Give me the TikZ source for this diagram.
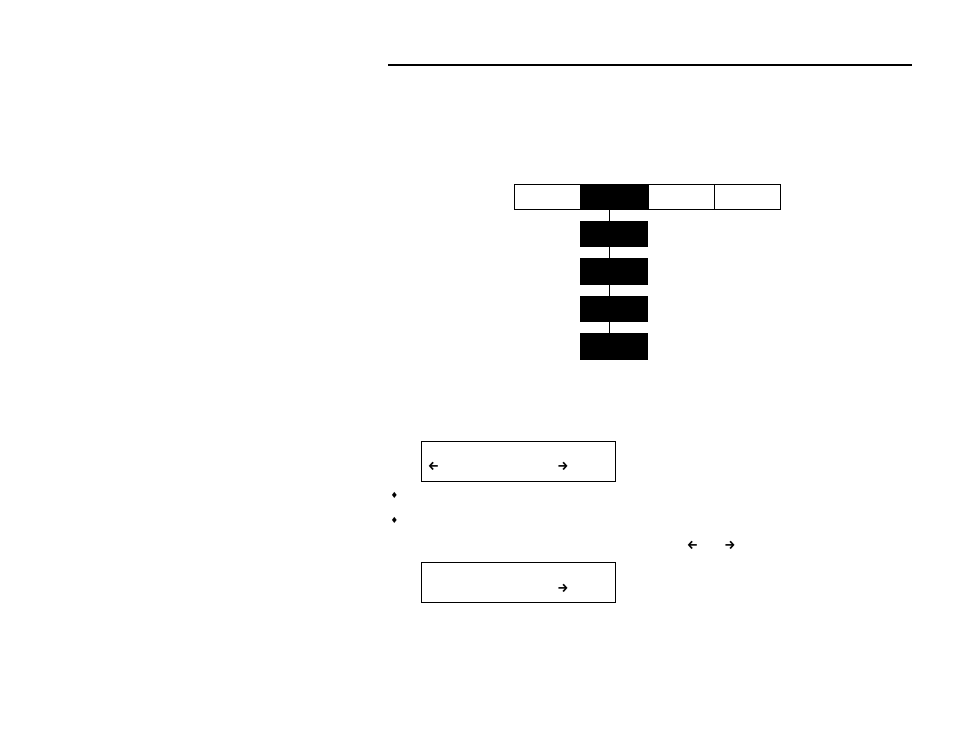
\documentclass[tikz,border=0pt]{standalone}
\usepackage{fontspec}
\newfontfamily\symfont{DejaVu Sans}
\newfontfamily\arrfont{Fira Sans}
\begin{document}
\begin{tikzpicture}[x=1pt,y=-1pt,
  wbox/.style={draw=black,fill=white,line width=1pt,minimum width=#1,minimum height=25pt,inner sep=0pt,anchor=north west},
  wbox/.default=66.5pt,
  bbox/.style={draw=black,fill=black,line width=1pt,minimum width=67pt,minimum height=25.5pt,inner sep=0pt,anchor=north west},
  panel/.style={draw=black,line width=0.9pt,minimum width=193.5pt,minimum height=39.5pt,inner sep=0pt,anchor=north west},
  conn/.style={line width=1pt},
  glyph/.style={font=\arrfont\bfseries\fontsize{12.5}{12.5}\selectfont,inner sep=0pt},
  bul/.style={font=\symfont\fontsize{8.5}{8.5}\selectfont,inner sep=0pt}]
\useasboundingbox (0,0) rectangle (954,738);
% header rule
\coordinate (rl) at (388,65);
\coordinate (rr) at (912,65);
\draw[line width=1.5pt] (rl) -- (rr);
% top row
\node[wbox=67pt] (t1) at (514,184.5) {};
\node[wbox=66.5pt] (t3) at (647.5,184.5) {};
\node[wbox=66pt] (t4) at (714,184.5) {};
\node[bbox,minimum height=25pt] (t2) at (580,184.5) {};
% column
\node[bbox] (c1) at (580,221) {};
\node[bbox] (c2) at (580,258.5) {};
\node[bbox] (c3) at (580,296) {};
\node[bbox] (c4) at (580,333.3) {};
\draw[conn] (t2.south) ++(-4.8,0) coordinate (a0) -- (a0 |- c1.north);
\draw[conn] (c1.south) ++(-4.8,0) coordinate (a1) -- (a1 |- c2.north);
\draw[conn] (c2.south) ++(-4.8,0) coordinate (a2) -- (a2 |- c3.north);
\draw[conn] (c3.south) ++(-4.8,0) coordinate (a3) -- (a3 |- c4.north);
% panels
\node[panel] (p1) at (421,441.3) {};
\node[panel] (p2) at (421,562.3) {};
\node[glyph] (p1l) at (433.5,466.5) {←};
\node[glyph] (p1r) at (563,466.5) {→};
\node[glyph] (p2r) at (563,588) {→};
% bullets
\node[bul] (b1) at (394.5,495.5) {♦};
\node[bul] (b2) at (394.5,520.5) {♦};
% inline arrows
\node[glyph] (la) at (692.5,545) {←};
\node[glyph] (ra) at (730,545) {→};
\end{tikzpicture}
\end{document}
